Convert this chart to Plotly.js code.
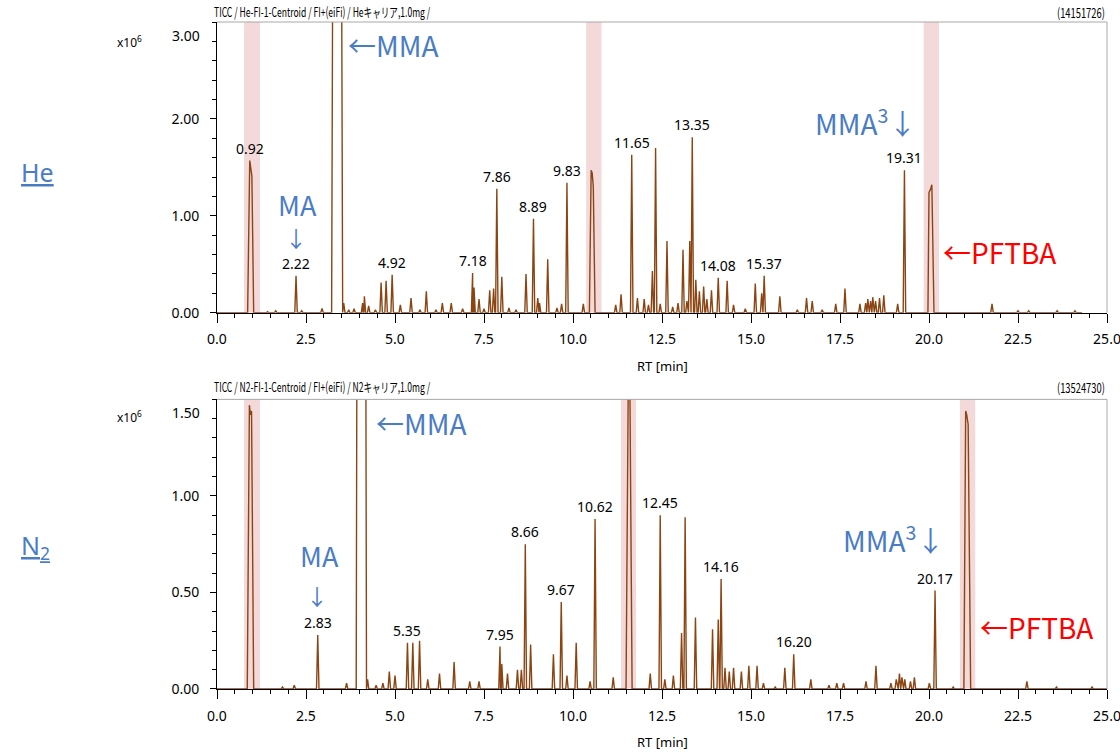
<!DOCTYPE html>
<html><head><meta charset="utf-8">
<script src="https://cdn.plot.ly/plotly-3.0.1.min.js"></script>
<style>
html,body{margin:0;padding:0;background:#fff}#chart{width:1120px;height:752px}
text[style*="TitleL"]{transform-box:fill-box;transform-origin:left center;transform:scaleX(0.66);}
text[style*="TitleR"]{transform-box:fill-box;transform-origin:right center;transform:scaleX(0.72);}
</style>
</head><body><div id="chart"></div>
<script>
// ---------- He carrier (x10^6 counts) ----------
const heTitle = 'TICC / He-FI-1-Centroid / FI+(eiFi) / Heキャリア,1.0mg /';
const heTotal = '(14151726)';
const hePeakRT = [1.42,1.65,2.22,2.38,2.95,3.56,3.70,3.85,4.09,4.14,4.26,4.45,4.61,4.75,4.92,5.15,5.45,5.70,5.88,6.15,6.33,6.58,6.90,
  7.18,7.22,7.36,7.50,7.66,7.77,7.86,8.00,8.20,8.40,8.68,8.89,9.01,9.06,9.29,9.55,9.68,9.83,10.29,11.20,11.35,11.65,11.81,12.00,
  12.12,12.23,12.32,12.45,12.64,12.80,12.95,13.09,13.20,13.28,13.35,13.45,13.55,13.67,13.76,13.89,14.08,14.33,14.51,14.84,15.12,
  15.30,15.37,15.81,16.30,16.56,16.72,17.00,17.38,17.64,18.06,18.22,18.28,18.36,18.42,18.50,18.61,18.73,19.12,19.31,21.77,22.50,
  22.80,23.60,24.10];
const hePeakInt = [0.01,0.02,0.38,0.02,0.045,0.10,0.03,0.04,0.10,0.17,0.07,0.03,0.31,0.33,0.39,0.08,0.15,0.03,0.22,0.03,0.10,0.10,0.04,
  0.41,0.26,0.14,0.04,0.23,0.25,1.28,0.37,0.05,0.03,0.40,0.97,0.15,0.10,0.55,0.05,0.09,1.34,0.09,0.08,0.19,1.63,0.15,0.14,
  0.08,0.43,1.70,0.09,0.74,0.06,0.10,0.65,0.12,0.74,1.81,0.34,0.22,0.27,0.14,0.23,0.36,0.33,0.08,0.04,0.30,
  0.20,0.38,0.17,0.03,0.15,0.12,0.03,0.09,0.25,0.09,0.10,0.14,0.12,0.16,0.12,0.15,0.18,0.09,1.47,0.09,0.02,
  0.02,0.02,0.02];
// broad (saturated / plateau) peaks, vertex by vertex
const heBroadRT  = [0.86,0.92,0.95,0.98,1.03, 3.22,3.25,3.50,3.53, 10.46,10.51,10.54,10.57,10.62, 19.97,20.00,20.04,20.08,20.14];
const heBroadInt = [0,1.57,1.50,1.41,0,        0,3.6,3.6,0,         0,1.47,1.44,1.30,0,              0,1.24,1.27,1.32,0];
const heRunEnd = 24.3;
const heLabelRT = [0.92,2.22,4.92,7.18,7.86,8.89,9.83,11.65,13.35,14.08,15.37,19.31];
const heBandStart = [0.76,10.37,19.85];
const heBandEnd   = [1.21,10.80,20.28];
const heYMax = 3.0;
const heYTicks = [0,1,2];

// ---------- N2 carrier ----------
const n2Title = 'TICC / N2-FI-1-Centroid / FI+(eiFi) / N2キャリア,1.0mg /';
const n2Total = '(13524730)';
const n2PeakRT = [1.84,2.17,2.83,3.64,4.23,4.47,4.66,4.84,5.00,5.35,5.50,5.69,5.92,6.25,6.66,7.10,7.36,7.95,8.00,8.16,8.44,8.55,
  8.66,8.81,9.45,9.67,9.83,10.09,10.48,10.62,11.13,12.17,12.45,12.58,12.82,13.05,13.15,13.44,13.92,14.08,14.16,14.27,14.39,14.51,
  14.73,14.94,15.17,15.35,15.68,15.95,16.20,16.68,17.19,17.41,17.60,18.23,18.51,18.93,19.08,19.17,19.24,19.32,19.48,19.59,20.01,
  20.17,20.68,22.75,23.58,24.58];
const n2PeakInt = [0.01,0.02,0.28,0.03,0.05,0.02,0.03,0.09,0.07,0.24,0.24,0.25,0.05,0.08,0.14,0.04,0.04,0.22,0.13,0.08,0.10,0.10,
  0.75,0.23,0.18,0.45,0.07,0.24,0.04,0.88,0.06,0.08,0.90,0.05,0.07,0.29,0.89,0.37,0.31,0.36,0.57,0.11,0.09,0.11,
  0.09,0.12,0.12,0.03,0.01,0.11,0.18,0.05,0.02,0.03,0.03,0.04,0.12,0.03,0.05,0.08,0.06,0.05,0.04,0.06,0.03,
  0.51,0.01,0.04,0.01,0.01];
const n2BroadRT  = [0.85,0.91,0.94,0.97,1.03, 3.91,3.93,4.18,4.20, 11.49,11.55,11.60,11.66, 20.98,21.03,21.06,21.10,21.17];
const n2BroadInt = [0,1.47,1.42,1.44,0,        0,1.8,1.8,0,         0,1.52,1.52,0,             0,1.44,1.42,1.37,0];
const n2RunEnd = 25.0;
const n2LabelRT = [2.83,5.35,7.95,8.66,9.67,10.62,12.45,14.16,16.20,20.17];
const n2BandStart = [0.76,11.35,20.87];
const n2BandEnd   = [1.21,11.77,21.30];
const n2YMax = 1.5;
const n2YTicks = [0,0.5,1.0];

// ---------- helpers ----------
const LINE = '#8b4513';
const BLUE = '#4a7cc4';
const FONT = '"Noto Sans", "Noto Sans CJK JP", sans-serif';
const JP = '"Noto Sans CJK JP", "Noto Sans", sans-serif';
const TITLE_L = 'TitleL, "Noto Sans CJK JP", "Noto Sans", sans-serif';
const TITLE_R = 'TitleR, "Noto Sans CJK JP", "Noto Sans", sans-serif';

function buildTrace(rt, h, brt, bh, end) {
  const hw = 0.035, pts = [[0, 0]];
  rt.forEach((r, i) => { pts.push([r - hw, 0], [r, h[i]], [r + hw, 0]); });
  brt.forEach((r, i) => pts.push([r, bh[i]]));
  pts.push([end, 0]);
  pts.sort((a, b) => a[0] - b[0]);
  return {x: pts.map(p => p[0]), y: pts.map(p => p[1])};
}
function apexNear(tr, r) {
  let m = 0;
  tr.x.forEach((x, i) => { if (Math.abs(x - r) < 0.045 && tr.y[i] > m) m = tr.y[i]; });
  return m;
}
const he = buildTrace(hePeakRT, hePeakInt, heBroadRT, heBroadInt, heRunEnd);
const n2 = buildTrace(n2PeakRT, n2PeakInt, n2BroadRT, n2BroadInt, n2RunEnd);

const traces = [
  {x: he.x, y: he.y, xaxis: 'x', yaxis: 'y', type: 'scatter', mode: 'lines', line: {color: LINE, width: 1.4}, hoverinfo: 'skip'},
  {x: n2.x, y: n2.y, xaxis: 'x2', yaxis: 'y2', type: 'scatter', mode: 'lines', line: {color: LINE, width: 1.4}, hoverinfo: 'skip'}
];

function xAxis(anchor) {
  return {anchor: anchor, range: [0, 25], tickmode: 'linear', tick0: 0, dtick: 2.5, tickformat: '.1f',
    showgrid: false, zeroline: false, showline: true, linecolor: '#000', linewidth: 1,
    ticks: 'outside', ticklen: 9, tickcolor: '#000', ticklabelstandoff: 5, ticklabeloverflow: 'allow',
    minor: {tick0: 0, dtick: 0.5, ticks: 'outside', ticklen: 4, tickcolor: '#000', showgrid: false},
    tickfont: {family: FONT, size: 14, color: '#000'}, fixedrange: true};
}
function yAxis(anchor, dom, ymax, ticks, minorStep) {
  return {anchor: anchor, domain: dom, range: [0, ymax], tickvals: ticks, ticktext: ticks.map(t => t.toFixed(2)),
    showgrid: false, zeroline: false, showline: true, linecolor: '#000', linewidth: 1,
    ticks: 'outside', ticklen: 6, tickcolor: '#000', ticklabelstandoff: 8,
    minor: {tick0: 0, dtick: minorStep, ticks: 'outside', ticklen: 4, tickcolor: '#000', showgrid: false},
    tickfont: {family: FONT, size: 14, color: '#000'}, fixedrange: true};
}

const shapes = [];
function bands(starts, ends, xr, yr) {
  starts.forEach((s, i) => shapes.push({type: 'rect', xref: xr, yref: yr + ' domain', x0: s, x1: ends[i], y0: 0, y1: 1,
    fillcolor: 'rgba(228,170,170,0.45)', line: {width: 0}, layer: 'below'}));
  shapes.push({type: 'line', xref: xr + ' domain', yref: yr + ' domain', x0: 0, x1: 1, y0: 1, y1: 1, line: {color: '#a8a8a8', width: 1}});
  shapes.push({type: 'line', xref: xr + ' domain', yref: yr + ' domain', x0: 1, x1: 1, y0: 0, y1: 1, line: {color: '#a8a8a8', width: 1}});
}
bands(heBandStart, heBandEnd, 'x', 'y');
bands(n2BandStart, n2BandEnd, 'x2', 'y2');

const ann = [];
function peakLabels(list, tr, xr, yr) {
  list.forEach(r => ann.push({x: r, y: apexNear(tr, r), xref: xr, yref: yr, text: r.toFixed(2), showarrow: false,
    xanchor: 'center', yanchor: 'bottom', yshift: 1, font: {family: FONT, size: 14, color: '#000'}}));
}
peakLabels(heLabelRT, he, 'x', 'y');
peakLabels(n2LabelRT, n2, 'x2', 'y2');

function txt(x, y, xr, yr, text, opts) {
  ann.push(Object.assign({x: x, y: y, xref: xr, yref: yr, text: text, showarrow: false}, opts));
}
const big = (size, color) => ({family: JP, size: size, color: color});
// He panel notes
txt(3.63, 2.76, 'x', 'y', '←MMA', {xanchor: 'left', yanchor: 'middle', font: big(28, BLUE)});
txt(2.25, 1.12, 'x', 'y', 'MA', {xanchor: 'center', yanchor: 'middle', font: big(27, BLUE)});
txt(2.22, 0.78, 'x', 'y', '↓', {xanchor: 'center', yanchor: 'middle', font: big(22, BLUE)});
txt(19.69, 1.97, 'x', 'y', 'MMA<sup>3</sup>↓', {xanchor: 'right', yanchor: 'middle', font: big(28, BLUE)});
txt(20.33, 0.63, 'x', 'y', '←PFTBA', {xanchor: 'left', yanchor: 'middle', font: big(28, '#ff0000')});
// N2 panel notes
txt(4.42, 1.38, 'x2', 'y2', '←MMA', {xanchor: 'left', yanchor: 'middle', font: big(28, BLUE)});
txt(2.87, 0.69, 'x2', 'y2', 'MA', {xanchor: 'center', yanchor: 'middle', font: big(27, BLUE)});
txt(2.81, 0.485, 'x2', 'y2', '↓', {xanchor: 'center', yanchor: 'middle', font: big(22, BLUE)});
txt(20.47, 0.78, 'x2', 'y2', 'MMA<sup>3</sup>↓', {xanchor: 'right', yanchor: 'middle', font: big(28, BLUE)});
txt(21.38, 0.32, 'x2', 'y2', '←PFTBA', {xanchor: 'left', yanchor: 'middle', font: big(28, '#ff0000')});

// top-of-axis full-scale labels
txt(0, heYMax, 'paper', 'y', heYMax.toFixed(2), {xanchor: 'right', yanchor: 'top', xshift: -15, yshift: -2, font: {family: FONT, size: 14, color: '#000'}});
txt(0, n2YMax, 'paper', 'y2', n2YMax.toFixed(2), {xanchor: 'right', yanchor: 'top', xshift: -15, yshift: -2, font: {family: FONT, size: 14, color: '#000'}});
// multiplier
txt(-0.098, 0.970, 'paper', 'paper', 'x10<sup>6</sup>', {xanchor: 'center', yanchor: 'middle', font: {family: FONT, size: 12, color: '#000'}});
txt(-0.098, 0.408, 'paper', 'paper', 'x10<sup>6</sup>', {xanchor: 'center', yanchor: 'middle', font: {family: FONT, size: 12, color: '#000'}});
// panel titles
txt(-0.006, 1.015, 'paper', 'paper', heTitle, {xanchor: 'left', yanchor: 'middle', font: {family: TITLE_L, size: 13, color: '#000'}});
txt(1, 1.015, 'paper', 'paper', heTotal, {xanchor: 'right', yanchor: 'middle', font: {family: TITLE_R, size: 13, color: '#000'}});
txt(-0.006, 0.4528, 'paper', 'paper', n2Title, {xanchor: 'left', yanchor: 'middle', font: {family: TITLE_L, size: 13, color: '#000'}});
txt(1, 0.4528, 'paper', 'paper', n2Total, {xanchor: 'right', yanchor: 'middle', font: {family: TITLE_R, size: 13, color: '#000'}});
// axis titles
txt(0.5, 0.4843, 'paper', 'paper', 'RT [min]', {xanchor: 'center', yanchor: 'middle', font: {family: FONT, size: 13, color: '#000'}});
txt(0.5, -0.0795, 'paper', 'paper', 'RT [min]', {xanchor: 'center', yanchor: 'middle', font: {family: FONT, size: 13, color: '#000'}});
// carrier gas labels
txt(-0.2227, 0.775, 'paper', 'paper', '<u>He</u>', {xanchor: 'left', yanchor: 'middle', font: {family: FONT, size: 25, color: BLUE}});
txt(-0.2227, 0.214, 'paper', 'paper', '<u>N<sub>2</sub></u>', {xanchor: 'left', yanchor: 'middle', font: {family: FONT, size: 25, color: BLUE}});

const layout = {
  width: 1120, height: 752,
  margin: {l: 217, r: 13, t: 22, b: 63},
  paper_bgcolor: '#fff', plot_bgcolor: '#fff',
  showlegend: false,
  xaxis: xAxis('y'),
  xaxis2: xAxis('y2'),
  yaxis: yAxis('x', [0.5642, 1], heYMax, heYTicks, 0.2),
  yaxis2: yAxis('x2', [0, 0.4342], n2YMax, n2YTicks, 0.1),
  shapes: shapes,
  annotations: ann
};
Plotly.newPlot('chart', traces, layout, {displayModeBar: false, staticPlot: true});
</script>
</body></html>
